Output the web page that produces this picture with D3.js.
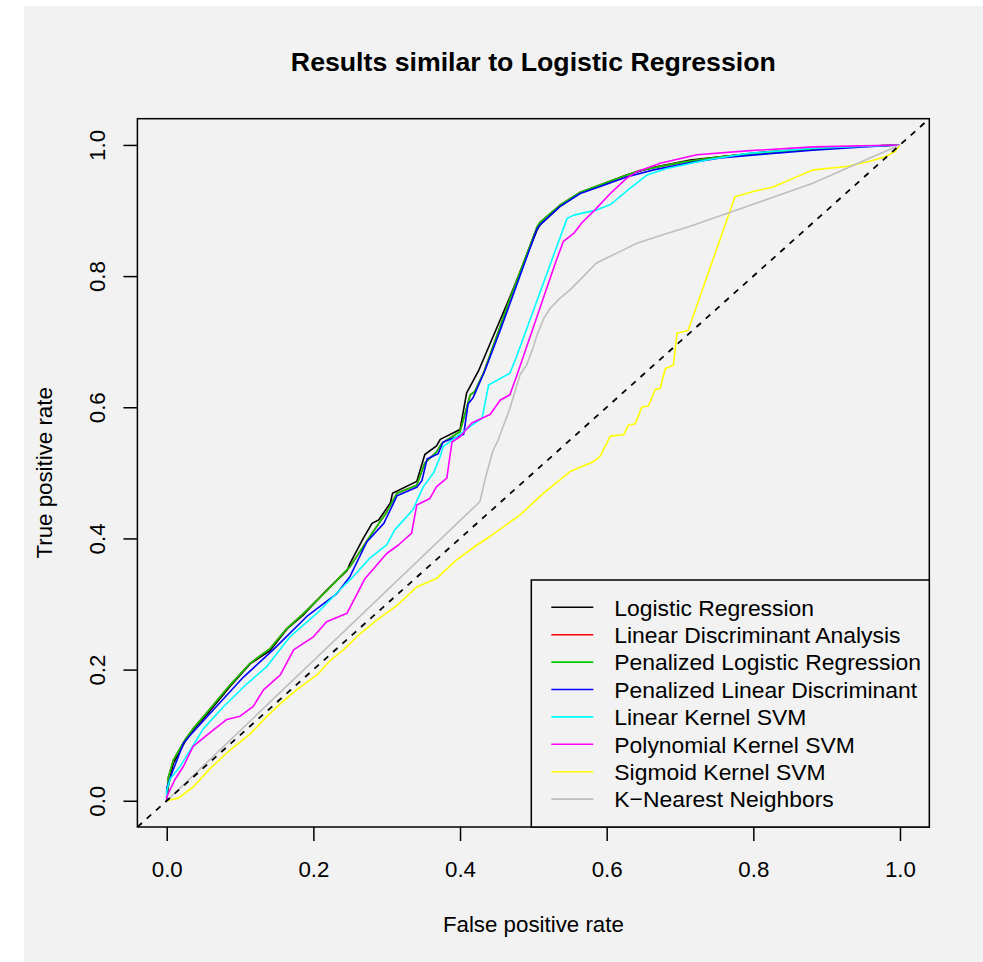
<!DOCTYPE html>
<html>
<head>
<meta charset="utf-8">
<script src="https://cdn.jsdelivr.net/npm/d3@7"></script>
<style>
body { margin: 0; background: #ffffff; }
svg text { font-family: "Liberation Sans", Arial, Helvetica, sans-serif; fill: #000; }
</style>
</head>
<body>
<div id="vis"></div>
<script>

// legend names and colours (R's old palette 1:8)
var seriesNames = ["Logistic Regression", "Linear Discriminant Analysis", "Penalized Logistic Regression",
    "Penalized Linear Discriminant", "Linear Kernel SVM", "Polynomial Kernel SVM", "Sigmoid Kernel SVM",
    "K\u2212Nearest Neighbors"];
var seriesColors = ["#000000", "#ff0000", "#00cd00", "#0000ff", "#00ffff", "#ff00ff", "#ffff00", "#bebebe"];
var axisTicks = [0, 0.2, 0.4, 0.6, 0.8, 1.0];

// ROC points: [false positive rate, true positive rate]
var logisticPts = [[0,0],[0.002,0.021],[0.009,0.057],[0.025,0.09],[0.036,0.108],[0.056,0.133],[0.086,0.174],
    [0.114,0.209],[0.141,0.229],[0.164,0.262],[0.186,0.283],[0.218,0.321],[0.246,0.351],[0.25,0.362],[0.268,0.4],
    [0.28,0.423],[0.289,0.428],[0.305,0.454],[0.308,0.469],[0.341,0.487],[0.352,0.528],[0.368,0.541],[0.373,0.551],
    [0.4,0.566],[0.409,0.622],[0.425,0.655],[0.468,0.768],[0.505,0.87],[0.509,0.878],[0.536,0.906],[0.564,0.927],
    [0.595,0.94],[0.627,0.954],[0.664,0.966],[0.714,0.977],[0.755,0.982],[0.814,0.989],[0.881,0.994],[0.95,0.998],[1,1]];

var ldaPts = [[0,0],[0.002,0.035],[0.009,0.062],[0.025,0.093],[0.036,0.11],[0.056,0.136],[0.086,0.176],[0.114,0.21],
    [0.141,0.232],[0.164,0.263],[0.186,0.285],[0.218,0.32],[0.25,0.357],[0.28,0.408],[0.3,0.44],[0.314,0.469],
    [0.341,0.481],[0.352,0.515],[0.368,0.532],[0.375,0.545],[0.4,0.563],[0.414,0.619],[0.42,0.624],[0.432,0.652],
    [0.468,0.765],[0.505,0.875],[0.509,0.882],[0.536,0.908],[0.564,0.928],[0.605,0.945],[0.645,0.961],[0.7,0.973],
    [0.755,0.982],[0.814,0.988],[0.881,0.994],[0.95,0.998],[1,1]];

var penLogisticPts = [[0,0],[0.002,0.035],[0.009,0.062],[0.025,0.093],[0.036,0.11],[0.056,0.136],[0.086,0.176],
    [0.114,0.21],[0.141,0.232],[0.164,0.263],[0.186,0.285],[0.218,0.32],[0.25,0.357],[0.28,0.408],[0.3,0.44],
    [0.314,0.469],[0.341,0.481],[0.352,0.515],[0.368,0.532],[0.375,0.545],[0.4,0.563],[0.414,0.619],[0.42,0.624],
    [0.432,0.652],[0.468,0.765],[0.505,0.875],[0.509,0.882],[0.536,0.908],[0.564,0.928],[0.605,0.945],[0.645,0.961],
    [0.7,0.973],[0.755,0.982],[0.814,0.988],[0.881,0.994],[0.95,0.998],[1,1]];

var penLdaPts = [[0,0],[0,0.019],[0.007,0.042],[0.023,0.088],[0.032,0.1],[0.059,0.133],[0.105,0.189],[0.145,0.23],
    [0.191,0.281],[0.232,0.316],[0.25,0.342],[0.273,0.395],[0.296,0.423],[0.309,0.453],[0.314,0.465],[0.341,0.478],
    [0.348,0.488],[0.355,0.521],[0.37,0.529],[0.377,0.547],[0.405,0.559],[0.411,0.605],[0.418,0.615],[0.434,0.656],
    [0.455,0.718],[0.505,0.872],[0.509,0.878],[0.536,0.906],[0.564,0.926],[0.595,0.938],[0.627,0.951],[0.664,0.962],
    [0.714,0.973],[0.755,0.98],[0.814,0.986],[0.881,0.992],[0.95,0.997],[1,1]];

var linSvmPts = [[0,0],[0,0.016],[0.005,0.034],[0.018,0.052],[0.032,0.077],[0.05,0.11],[0.077,0.143],[0.109,0.178],
    [0.136,0.204],[0.168,0.25],[0.205,0.286],[0.241,0.327],[0.252,0.339],[0.277,0.37],[0.3,0.39],[0.311,0.413],
    [0.336,0.444],[0.341,0.457],[0.35,0.479],[0.364,0.5],[0.373,0.525],[0.377,0.54],[0.414,0.571],[0.43,0.583],
    [0.439,0.634],[0.468,0.652],[0.477,0.677],[0.546,0.888],[0.555,0.893],[0.587,0.901],[0.605,0.909],[0.632,0.934],
    [0.655,0.954],[0.682,0.964],[0.736,0.977],[0.791,0.987],[0.882,0.995],[1,1]];

var polySvmPts = [[0,0],[0,0.006],[0.011,0.032],[0.023,0.053],[0.036,0.083],[0.059,0.104],[0.082,0.124],[0.1,0.129],
    [0.118,0.144],[0.132,0.169],[0.155,0.192],[0.173,0.23],[0.2,0.25],[0.218,0.273],[0.246,0.286],[0.27,0.338],
    [0.3,0.377],[0.316,0.39],[0.334,0.408],[0.341,0.451],[0.359,0.461],[0.368,0.479],[0.382,0.492],[0.389,0.547],
    [0.4,0.555],[0.416,0.576],[0.441,0.589],[0.455,0.611],[0.468,0.619],[0.477,0.647],[0.53,0.82],[0.541,0.853],
    [0.555,0.865],[0.566,0.881],[0.584,0.901],[0.605,0.926],[0.627,0.949],[0.641,0.959],[0.673,0.972],[0.723,0.985],
    [0.791,0.991],[0.882,0.997],[1,1]];

var sigSvmPts = [[0,0],[0.016,0.004],[0.036,0.021],[0.059,0.049],[0.086,0.077],[0.114,0.102],[0.136,0.128],
    [0.155,0.148],[0.177,0.169],[0.205,0.192],[0.223,0.214],[0.241,0.23],[0.264,0.255],[0.286,0.275],[0.314,0.298],
    [0.341,0.326],[0.368,0.339],[0.395,0.367],[0.423,0.39],[0.441,0.403],[0.482,0.436],[0.514,0.469],[0.55,0.502],
    [0.582,0.517],[0.591,0.525],[0.605,0.556],[0.623,0.558],[0.63,0.573],[0.639,0.575],[0.648,0.6],[0.657,0.602],
    [0.666,0.627],[0.673,0.629],[0.68,0.659],[0.691,0.664],[0.696,0.713],[0.711,0.717],[0.775,0.921],[0.8,0.929],
    [0.827,0.936],[0.854,0.949],[0.882,0.962],[0.927,0.967],[0.959,0.975],[0.98,0.982],[0.993,0.99],[1,1]];

var knnPts = [[0,0],[0.427,0.456],[0.436,0.498],[0.445,0.534],[0.452,0.55],[0.468,0.598],[0.482,0.65],[0.491,0.665],
    [0.5,0.692],[0.505,0.71],[0.514,0.735],[0.523,0.751],[0.536,0.766],[0.55,0.779],[0.573,0.805],[0.586,0.82],
    [0.623,0.84],[0.641,0.85],[0.682,0.865],[0.714,0.876],[0.791,0.906],[0.882,0.942],[0.959,0.98],[1,1]];

var allSeries = [logisticPts, ldaPts, penLogisticPts, penLdaPts, linSvmPts, polySvmPts, sigSvmPts, knnPts];


var svg = d3.select('#vis').append('svg')
    .attr('width', 983)
    .attr('height', 962);

// grey device background
svg.append('rect')
    .attr('x', 24)
    .attr('y', 6)
    .attr('width', 959)
    .attr('height', 956)
    .attr('fill', '#f2f2f2');

var margin = {top: 118.7, right: 53.7, bottom: 135, left: 137.4};
var width = 983 - margin.left - margin.right,
    height = 962 - margin.top - margin.bottom;

//R pads the data range by 4% on each side
var x = d3.scaleLinear().domain([-0.04, 1.04]).range([0, width]),
    y = d3.scaleLinear().domain([-0.04, 1.04]).range([height, 0]);

var plot = svg.append('g')
    .attr('transform', 'translate(' + margin.left + ',' + margin.top + ')');

plot.append('clipPath')
    .attr('id', 'plot-clip')
    .append('rect')
    .attr('width', width)
    .attr('height', height);

var line = d3.line()
    .x(function (d) { return x(d[0]); })
    .y(function (d) { return y(d[1]); });

var curves = plot.append('g').attr('clip-path', 'url(#plot-clip)');

curves.selectAll('.roc')
    .data(allSeries)
    .enter()
    .append('path')
    .attr('class', 'roc')
    .attr('d', line)
    .attr('fill', 'none')
    .attr('stroke', function (d, i) { return seriesColors[i]; })
    .attr('stroke-width', 1.6)
    .attr('stroke-linejoin', 'round');

// chance line, abline(0,1,lty=2)
curves.append('path')
    .attr('d', line([[-0.04, -0.04], [1.04, 1.04]]))
    .attr('fill', 'none')
    .attr('stroke', '#000')
    .attr('stroke-width', 1.8)
    .attr('stroke-dasharray', '6,6.5');

//axes
var xAxis = d3.axisBottom(x).tickValues(axisTicks).tickSize(14).tickFormat(d3.format('.1f'));
var yAxis = d3.axisLeft(y).tickValues(axisTicks).tickSize(14).tickFormat(d3.format('.1f'));

var gx = plot.append('g')
    .attr('transform', 'translate(0,' + height + ')')
    .call(xAxis);
gx.select('.domain').remove();
gx.selectAll('line').attr('stroke-width', 1.5);
gx.selectAll('text')
    .attr('dy', null)
    .attr('y', 50)
    .attr('font-size', 22.3)
    .attr('font-family', null);

var gy = plot.append('g').call(yAxis);
gy.select('.domain').remove();
gy.selectAll('line').attr('stroke-width', 1.5);
gy.selectAll('text')
    .attr('dy', null)
    .attr('x', 0)
    .attr('y', -32)
    .attr('transform', 'rotate(-90)')
    .attr('text-anchor', 'middle')
    .attr('font-size', 22.3)
    .attr('font-family', null);

plot.append('rect')
    .attr('width', width)
    .attr('height', height)
    .attr('fill', 'none')
    .attr('stroke', '#000')
    .attr('stroke-width', 1.5);

//legend, anchored bottom right
var legW = 398, legH = 247;
var legend = plot.append('g')
    .attr('transform', 'translate(' + (width - legW) + ',' + (height - legH) + ')');

legend.append('rect')
    .attr('width', legW)
    .attr('height', legH)
    .attr('fill', '#f2f2f2')
    .attr('stroke', '#000')
    .attr('stroke-width', 1.5);

var legItem = legend.selectAll('.leg-item')
    .data(seriesNames)
    .enter()
    .append('g')
    .attr('class', 'leg-item')
    .attr('transform', function (d, i) { return 'translate(0,' + (27.3 + i * 27.4) + ')'; });

legItem.append('line')
    .attr('x1', 20)
    .attr('x2', 62)
    .attr('stroke', function (d, i) { return seriesColors[i]; })
    .attr('stroke-width', 1.6);

legItem.append('text')
    .attr('x', 83)
    .attr('y', 8.2)
    .attr('font-size', 22.9)
    .text(function (d) { return d; });

//titles
svg.append('text')
    .attr('x', margin.left + width / 2)
    .attr('y', 71)
    .attr('text-anchor', 'middle')
    .attr('font-size', 26.7)
    .attr('font-weight', 'bold')
    .text('Results similar to Logistic Regression');

svg.append('text')
    .attr('x', margin.left + width / 2)
    .attr('y', 932)
    .attr('text-anchor', 'middle')
    .attr('font-size', 22.3)
    .text('False positive rate');

svg.append('text')
    .attr('transform', 'translate(52,' + (margin.top + height / 2) + ') rotate(-90)')
    .attr('text-anchor', 'middle')
    .attr('font-size', 22.3)
    .text('True positive rate');

</script>
</body>
</html>
